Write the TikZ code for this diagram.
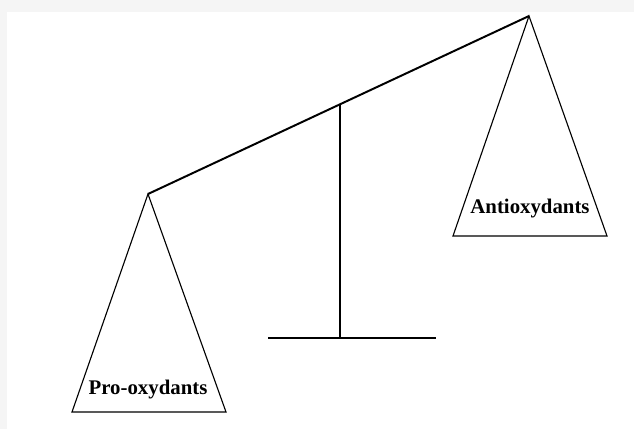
\documentclass[tikz,border=0pt]{standalone}
\usepackage{fontspec}
\setmainfont{Liberation Serif}
\usepackage{tikz}

\begin{document}
\begin{tikzpicture}[x=0.025cm,y=-0.025cm]

% Frame
\fill[gray!8] (0,0) rectangle (634,429);
\fill[white] (7,12) rectangle (634,429);
\useasboundingbox (0,0) rectangle (634,429);

% Beam
\coordinate (L) at (148,194);
\coordinate (R) at (529,16);
\draw[line width=1.4pt] (L) -- (R);

% Stand
\coordinate (top) at (340,104.5);
\coordinate (foot) at (340,338);
\draw[line width=1.6pt] (top) -- (foot);
\draw[line width=1.6pt] (268,338) -- (436,338);

% Left pan
\draw[line width=0.8pt] (L) -- (72,412) -- (226,412) -- cycle;
\node[font=\fontsize{14.8}{17}\selectfont\bfseries] (pro) at (148,390) {Pro-oxydants};

% Right pan
\draw[line width=0.8pt] (R) -- (453,236) -- (607,236) -- cycle;
\node[font=\fontsize{14.8}{17}\selectfont\bfseries] (anti) at (530,209) {Antioxydants};

\end{tikzpicture}
\end{document}
